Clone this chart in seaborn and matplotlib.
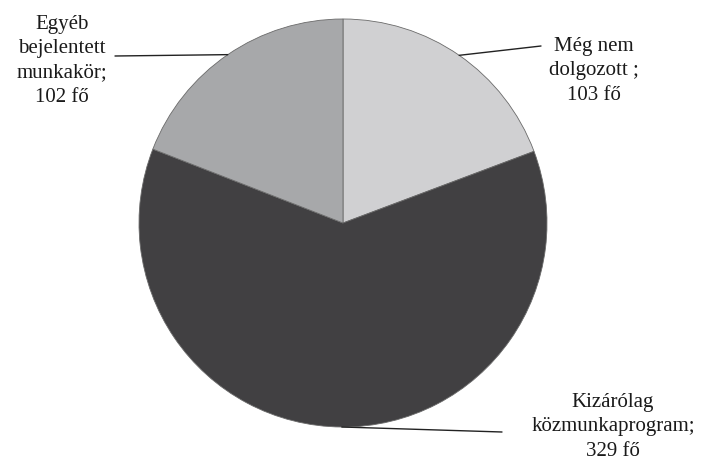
import numpy as np
import matplotlib
matplotlib.use("Agg")
import matplotlib.pyplot as plt
import seaborn as sns

categories = ["Még nem\ndolgozott ;\n103 fő", "Kizárólag\nközmunkaprogram;\n329 fő", "Egyéb\nbejelentett\nmunkakör;\n102 fő"]
values = [103, 329, 102]
colors = ["#d0d0d2", "#414042", "#a7a8aa"]

sns.set_theme(style="white")
plt.rcParams["font.family"] = ["Liberation Serif", "DejaVu Serif"]

W, H = 702, 464
fig = plt.figure(figsize=(W / 100, H / 100), dpi=100)
ax = fig.add_axes([0, 0, 1, 1])

cx, cy, r = 343, H - 224, 204
wedges, _ = ax.pie(values, colors=colors, startangle=90, counterclock=False,
                   center=(cx, cy), radius=r, frame=True,
                   wedgeprops=dict(edgecolor="#6a6a6a", linewidth=0.6))
ax.set_xlim(0, W)
ax.set_ylim(0, H)
ax.set_aspect("equal")
ax.axis("off")

# label positions (text anchor) and elbow points in pixel coords (y from top)
label_pos = [(594, 71), (613, 427), (62, 61)]
elbow = [(541, 47), (502, 433), (115, 57)]
for w, lab, (tx, ty), (ex, ey) in zip(wedges, categories, label_pos, elbow):
    ang = np.deg2rad((w.theta1 + w.theta2) / 2)
    px, py = cx + r * np.cos(ang), cy + r * np.sin(ang)
    ax.plot([px, ex], [py, H - ey], color="#222222", lw=1.0, zorder=5)
    ax.text(tx, H - ty, lab, ha="center", va="center", fontsize=15,
            color="#1a1a1a", linespacing=1.38)

fig.savefig("out.png", dpi=100)
